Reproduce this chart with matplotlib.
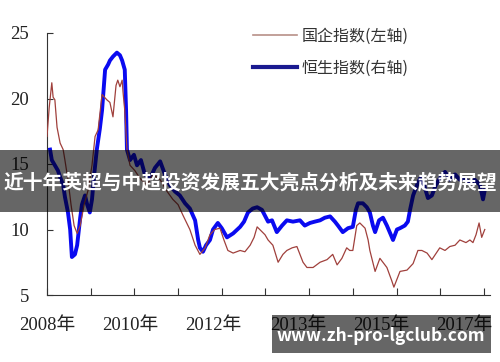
import matplotlib
matplotlib.use('Agg')
import matplotlib.pyplot as plt
from matplotlib.lines import Line2D
from matplotlib.patches import Rectangle

plt.rcParams['font.family'] = ['Noto Sans CJK SC', 'DejaVu Sans']

# 国企指数(左轴) - x为时间刻度(每10为一格)
red_x = [0, 0.5, 1.1, 1.4, 1.8, 2.3, 3.0, 3.7, 4.1, 4.8, 5.5, 6.2, 6.9, 7.6, 8.5, 9.4, 10.3, 11.0,
         11.7, 12.6, 13.7, 14.4, 15.1, 15.8, 16.2, 16.7, 17.2, 17.4, 17.8, 18.3, 19.0, 20.1, 21.3,
         22.9, 24.3, 25.9, 27.5, 28.8, 30.0, 31.1, 32.7, 33.9, 35.0, 36.2, 37.3, 38.4, 39.6, 40.5,
         41.4, 42.6, 44.2, 45.3, 46.5, 47.4, 48.1, 48.7, 49.9, 50.6, 51.7, 52.9, 54.0, 54.9, 56.1,
         57.2, 58.6, 59.5, 60.9, 62.5, 64.1, 65.4, 66.4, 67.5, 68.6, 69.3, 70.0, 70.9, 71.6, 72.8,
         73.5, 73.9, 75.1, 76.2, 77.8, 78.9, 79.4, 80.8, 82.4, 83.8, 84.9, 85.8, 87.0, 88.1, 89.9,
         91.1, 92.2, 93.4, 94.5, 95.9, 96.8, 97.5, 98.2, 98.9, 99.5, 100.2]
red_y = [17.1, 19.3, 21.2, 20.1, 19.9, 17.8, 16.6, 16.1, 15.3, 13.8, 11.9, 10.3, 9.7, 10.3, 11.9,
         13.0, 14.9, 17.1, 17.6, 20.3, 19.9, 19.7, 18.6, 21.0, 21.4, 20.9, 21.4, 20.5, 19.1, 16.1,
         14.9, 14.5, 13.9, 13.4, 14.2, 13.8, 12.9, 12.3, 11.9, 11.1, 10.0, 8.8, 8.1, 8.6, 9.6, 10.0,
         10.1, 9.2, 8.4, 8.2, 8.4, 8.3, 8.8, 9.4, 10.2, 10.0, 9.6, 9.2, 8.8, 7.5, 8.1, 8.4, 8.6, 8.7,
         7.5, 7.1, 7.1, 7.5, 7.7, 8.1, 7.3, 7.8, 8.6, 8.4, 8.4, 10.3, 10.5, 10.1, 9.2, 8.4, 6.8, 7.8,
         7.1, 6.1, 5.6, 6.8, 6.9, 7.4, 8.4, 8.4, 8.2, 7.7, 8.6, 8.4, 8.7, 8.8, 9.2, 9.0, 9.2, 9.0,
         9.6, 10.5, 9.4, 10.0]

# 恒生指数(右轴)
blue_x = [0.7, 1.1, 1.8, 2.5, 3.0, 3.7, 4.1, 4.8, 5.3, 5.7, 6.4, 6.9, 7.6, 8.0, 8.7, 9.2, 9.8,
          10.3, 10.8, 11.4, 12.1, 12.6, 13.3, 14.0, 14.4, 15.1, 16.0, 16.7, 17.2, 17.8, 18.1, 18.3,
          19.0, 19.9, 20.6, 21.5, 22.4, 23.6, 24.7, 25.9, 27.0, 28.1, 29.3, 30.4, 31.6, 32.7, 33.9,
          34.6, 35.0, 35.7, 36.4, 37.3, 38.0, 39.1, 40.0, 41.2, 42.6, 44.2, 45.1, 46.0, 47.1, 48.1,
          49.2, 50.6, 51.5, 52.6, 53.8, 54.9, 56.3, 57.9, 59.0, 60.2, 61.3, 62.5, 63.6, 64.8, 65.9,
          66.6, 67.7, 68.9, 70.0, 70.7, 71.2, 72.3, 73.2, 73.9, 74.6, 75.1, 76.0, 76.9, 77.8, 78.7,
          79.2, 80.1, 80.8, 81.9, 82.6, 83.1, 83.8, 84.7, 85.4, 86.3, 87.2, 88.1, 89.0, 89.9, 91.1,
          92.2, 93.4, 94.5, 95.7, 96.8, 97.9, 99.1, 99.8, 100.2]
blue_y = [16.1, 15.3, 14.9, 14.5, 14.0, 13.4, 12.5, 11.3, 10.0, 7.9, 8.1, 8.8, 10.9, 11.9, 12.6,
          11.9, 11.3, 12.3, 14.2, 16.1, 17.7, 19.1, 22.2, 22.6, 22.9, 23.2, 23.5, 23.3, 22.9, 22.2,
          19.1, 16.1, 15.3, 15.7, 14.9, 15.3, 14.2, 13.9, 14.7, 15.2, 14.2, 13.4, 12.9, 12.6, 12.0,
          11.6, 10.7, 9.2, 8.6, 8.3, 8.8, 9.2, 10.0, 10.5, 10.1, 9.4, 9.7, 10.2, 10.6, 11.3, 11.6,
          11.7, 11.5, 10.6, 10.7, 9.8, 10.3, 10.7, 10.6, 10.7, 10.3, 10.5, 10.6, 10.7, 10.9, 11.0,
          10.6, 10.3, 9.8, 10.1, 10.2, 11.5, 12.0, 12.0, 11.7, 11.3, 10.3, 9.8, 10.7, 10.9, 10.3,
          9.6, 9.2, 10.0, 10.1, 10.3, 10.6, 11.5, 12.6, 13.4, 13.9, 13.4, 12.4, 12.6, 13.4, 13.9,
          14.4, 13.8, 14.2, 13.8, 13.9, 13.5, 13.8, 13.4, 12.3, 13.0]

tick_pos = list(range(0, 101, 10))
label_pos = [0, 19, 38, 57.5, 76.5, 95.5]
year_labels = ['2008年', '2010年', '2012年', '2013年', '2015年', '2017年']
yticks = [5, 10, 15, 20, 25]

fig = plt.figure(figsize=(5, 3.62), dpi=100)
ax = fig.add_axes([47/500, 1-295/362, 443/500, 262/362])

ax.plot(blue_x, blue_y, color='#0a0af0', lw=2.8, solid_joinstyle='round', zorder=2)
ax.plot(red_x, red_y, color='#a0403c', lw=0.9, zorder=3)

ax.set_xlim(0, 101.4)
ax.set_ylim(5, 25)
ax.spines['top'].set_visible(False)
ax.spines['right'].set_visible(False)
ax.spines['left'].set_color('#333333')
ax.spines['bottom'].set_color('#333333')

serif = ['Liberation Serif', 'Noto Sans CJK SC']
ax.set_yticks(yticks)
ax.set_yticklabels([str(v) for v in yticks], family=serif, fontsize=13.5, color='#222222')
ax.tick_params(axis='y', direction='in', length=4.5, pad=13, color='#333333')

ax.xaxis.remove_overlapping_locs = False
ax.set_xticks(tick_pos)
ax.set_xticklabels([])
ax.tick_params(axis='x', which='major', direction='in', length=5, color='#333333')
ax.set_xticks(label_pos, minor=True)
ax.set_xticklabels(year_labels, minor=True, family=serif, fontsize=13.5, color='#222222')
ax.tick_params(axis='x', which='minor', length=0, pad=16)

handles = [Line2D([], [], color='#b89088', lw=1.2),
           Line2D([], [], color='#1a1a90', lw=3)]
ax.legend(handles, ['国企指数(左轴)', '恒生指数(右轴)'], loc='upper left',
          bbox_to_anchor=(253/500, 1-28/362), bbox_transform=fig.transFigure,
          frameon=False, fontsize=11.5, handlelength=2.75, handletextpad=0.3,
          labelspacing=0.9, borderpad=0, borderaxespad=0, labelcolor='#333333')

# 标题横幅
fig.patches.append(Rectangle((0, 1-212/362), 1, 62/362, transform=fig.transFigure,
                             facecolor='black', alpha=0.6, zorder=5))
fig.text(0.5, 1-183/362, '近十年英超与中超投资发展五大亮点分析及未来趋势展望', color='white',
         fontsize=14.2, fontweight='bold', ha='center', va='center', zorder=6)

# 水印
fig.patches.append(Rectangle((272/500, 1-353/362), 219/500, 38/362, transform=fig.transFigure,
                             facecolor='black', alpha=0.6, zorder=5))
fig.text(381/500, 1-336/362, 'www.zh-pro-lgclub.com', color='white', fontsize=12.5,
         fontweight='bold', ha='center', va='center', zorder=6)

fig.savefig('out.png', dpi=100)
